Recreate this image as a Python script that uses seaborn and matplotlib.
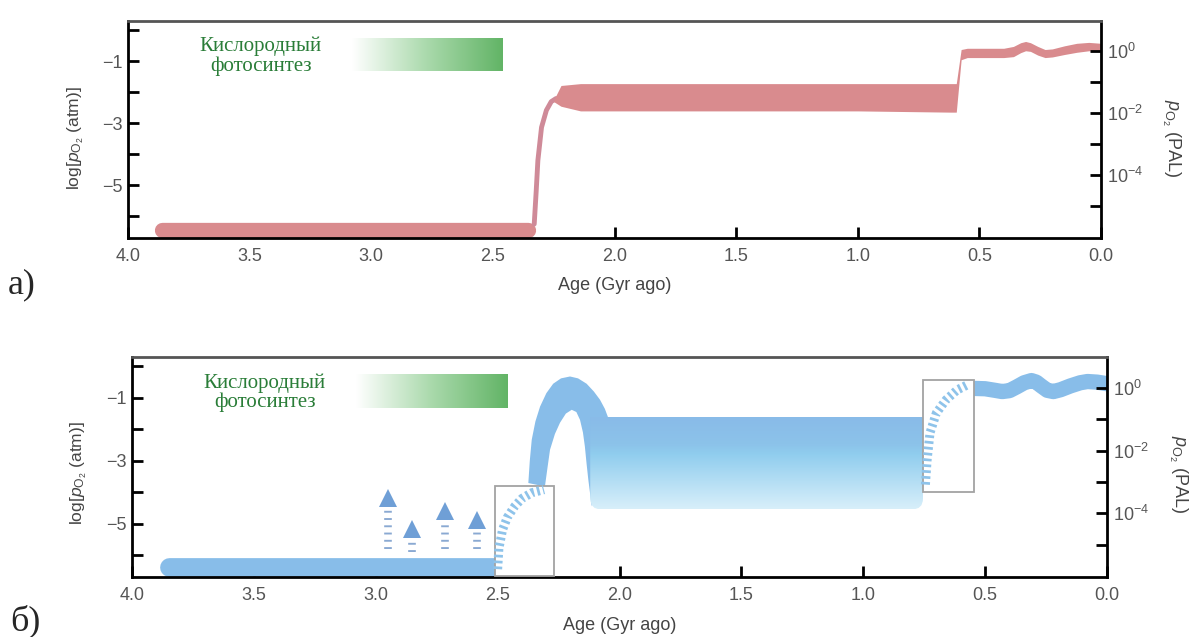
import numpy as np
import matplotlib
matplotlib.use("Agg")
import matplotlib.pyplot as plt
import seaborn as sns
from matplotlib.colors import LinearSegmentedColormap
from matplotlib.patches import Rectangle, FancyBboxPatch

sns.set_theme(style="ticks")
plt.rcParams["font.family"] = ["Liberation Sans", "DejaVu Sans"]
plt.rcParams["mathtext.fontset"] = "custom"
plt.rcParams["mathtext.rm"] = "Liberation Sans"
plt.rcParams["mathtext.it"] = "Liberation Sans:italic"
plt.rcParams["mathtext.bf"] = "Liberation Sans:bold"

# ---- axes values ----
age_ticks = [4.0, 3.5, 3.0, 2.5, 2.0, 1.5, 1.0, 0.5, 0.0]
atm_major = [-1, -3, -5]
atm_minor = [0, -2, -4, -6]
pal_major = [0, -2, -4]
pal_labels = [r"$10^{0}$", r"$10^{-2}$", r"$10^{-4}$"]
pal_minor = [-1, -3, -5]
atm_range = [-6.7, 0.3]
pal_atm = 0.21  # 1 PAL = 0.21 atm

# oxygenic photosynthesis marker (same in both panels)
photo_age = [3.08, 2.46]
photo_log = [-1.32, -0.26]
photo_text = "Кислородный\nфотосинтез"

# ---- panel a (red) ----
a_low_age = [3.86, 2.355]
a_low_log = [-6.45, -6.45]
a_rise_age = [2.33, 2.322, 2.315, 2.30, 2.28, 2.26, 2.24]
a_rise_log = [-6.25, -5.2, -4.2, -3.13, -2.58, -2.3, -2.2]
a_band_age = [2.25, 2.22, 2.14, 1.00, 0.62, 0.595, 0.575, 0.55, 0.40, 0.36, 0.33,
              0.31, 0.29, 0.26, 0.23, 0.20, 0.15, 0.10, 0.05, 0.0]
a_band_hi = [-2.25, -1.78, -1.72, -1.72, -1.72, -1.72, -0.62, -0.58, -0.58, -0.52,
             -0.40, -0.36, -0.40, -0.52, -0.62, -0.60, -0.50, -0.42, -0.39, -0.42]
a_band_lo = [-2.30, -2.45, -2.60, -2.60, -2.64, -2.64, -0.95, -0.88, -0.88, -0.85,
             -0.72, -0.66, -0.68, -0.80, -0.88, -0.86, -0.78, -0.71, -0.66, -0.68]

# ---- panel b (blue) ----
b_low_age = [3.85, 2.51]
b_low_log = [-6.38, -6.38]
b_box1_age = [2.51, 2.27]
b_box1_log = [-6.68, -3.79]
b_arc1_age = [2.50, 2.495, 2.48, 2.46, 2.43, 2.40, 2.36, 2.31]
b_arc1_log = [-6.45, -5.8, -5.2, -4.8, -4.45, -4.2, -4.02, -3.92]
b_arch_outer_age = [2.374, 2.368, 2.360, 2.345, 2.326, 2.300, 2.272, 2.240, 2.203,
                    2.170, 2.135, 2.105, 2.080, 2.060, 2.046]
b_arch_outer_log = [-3.71, -3.00, -2.33, -1.75, -1.28, -0.85, -0.55, -0.38, -0.32,
                    -0.38, -0.55, -0.80, -1.06, -1.35, -1.64]
b_arch_inner_age = [2.306, 2.295, 2.285, 2.265, 2.244, 2.220, 2.196, 2.177, 2.162,
                    2.150, 2.142, 2.135, 2.128, 2.114]
b_arch_inner_log = [-3.82, -3.20, -2.65, -2.15, -1.79, -1.50, -1.38, -1.45, -1.70,
                    -2.10, -2.55, -3.10, -3.60, -4.45]
b_plateau_age = [2.12, 0.755]
b_plateau_log = [-4.55, -1.64]
b_box2_age = [0.755, 0.545]
b_box2_log = [-4.0, -0.43]
b_arc2_age = [0.745, 0.738, 0.726, 0.70, 0.66, 0.615, 0.574]
b_arc2_log = [-3.76, -2.97, -2.11, -1.48, -1.06, -0.75, -0.59]
b_wave_age = [0.545, 0.50, 0.46, 0.43, 0.40, 0.37, 0.34, 0.31, 0.29, 0.27, 0.245,
              0.22, 0.19, 0.15, 0.11, 0.08, 0.04, 0.0]
b_wave_log = [-0.70, -0.71, -0.76, -0.80, -0.77, -0.65, -0.52, -0.45, -0.50, -0.62,
              -0.76, -0.80, -0.74, -0.62, -0.52, -0.48, -0.50, -0.55]
arrow_age = [2.95, 2.85, 2.715, 2.585]
arrow_tip = [-3.98, -4.97, -4.40, -4.70]
arrow_base = [-5.8, -5.9, -5.8, -5.8]

red = "#d98b8e"
blue = "#88bde9"
green_text = "#2a7d38"
tick_grey = "#555555"

green_cmap = LinearSegmentedColormap.from_list("photo", ["#ffffff", "#a9d9ab", "#62b466"])
plateau_cmap = LinearSegmentedColormap.from_list(
    "plateau", [(0.0, "#89bbe8"), (0.3, "#8cc3ea"), (0.4, "#90cdee"), (1.0, "#d8effa")])


def style_axes(ax):
    ax.set_xlim(4.0, 0.0)
    ax.set_ylim(*atm_range)
    ax.set_xticks(age_ticks)
    ax.set_xticklabels([f"{t:.1f}" for t in age_ticks])
    ax.set_yticks(atm_major)
    ax.set_yticklabels([f"\u2212{abs(t)}" for t in atm_major])
    ax.set_yticks(atm_minor, minor=True)
    ax.tick_params(which="both", direction="in", length=8, width=2, color="black",
                   labelsize=13, labelcolor=tick_grey)
    ax.tick_params(axis="x", pad=7)
    ax.tick_params(axis="y", pad=4)
    for side in ["left", "bottom", "right"]:
        ax.spines[side].set_linewidth(2)
        ax.spines[side].set_color("black")
    ax.spines["top"].set_linewidth(2)
    ax.spines["top"].set_color("#555555")
    ax.set_xlabel("Age (Gyr ago)", fontsize=13, color="#444444")
    ax.set_ylabel(r"log[$p_{\mathrm{O}_2}$ (atm)]", fontsize=12.5, color="#444444")

    twin = ax.twinx()
    off = np.log10(pal_atm)
    twin.set_ylim(atm_range[0] - off, atm_range[1] - off)
    twin.set_yticks(pal_major)
    twin.set_yticklabels(pal_labels)
    twin.set_yticks(pal_minor, minor=True)
    twin.tick_params(which="both", direction="in", length=8, width=2, color="black",
                     labelsize=13, labelcolor=tick_grey, pad=4)
    twin.set_ylabel(r"$p_{\mathrm{O}_2}$ (PAL)", fontsize=13, color="#444444",
                    rotation=270, va="bottom", rotation_mode="anchor")
    for s in twin.spines.values():
        s.set_visible(False)

    # photosynthesis label and gradient bar
    ax.imshow(np.linspace(0, 1, 256).reshape(1, -1), cmap=green_cmap, aspect="auto",
              extent=[photo_age[0], photo_age[1], photo_log[0], photo_log[1]], zorder=1)
    ax.text(3.455, -0.84, photo_text, ha="center", va="center", color=green_text,
            family=["Liberation Serif", "DejaVu Serif"], fontsize=15, linespacing=1.0)
    ax.set_xlim(4.0, 0.0)
    ax.set_ylim(*atm_range)
    return twin


fig = plt.figure(figsize=(11.9, 6.37), dpi=100)
ax_a = fig.add_axes([128 / 1190, 1 - 238 / 637, 973 / 1190, 217 / 637])
ax_b = fig.add_axes([132 / 1190, 1 - 577 / 637, 975 / 1190, 220 / 637])

# ---------------- panel a ----------------
tw_a = style_axes(ax_a)
sns.lineplot(x=a_low_age, y=a_low_log, ax=ax_a, color=red, linewidth=11,
             solid_capstyle="round", sort=False, estimator=None, legend=False)
sns.lineplot(x=a_rise_age, y=a_rise_log, ax=ax_a, color="#cf8a98", linewidth=3.5,
             solid_capstyle="round", sort=False, estimator=None, legend=False)
ax_a.fill_between(a_band_age, a_band_lo, a_band_hi, color=red, linewidth=0, zorder=2)

# ---------------- panel b ----------------
tw_b = style_axes(ax_b)
sns.lineplot(x=b_low_age, y=b_low_log, ax=ax_b, color=blue, linewidth=13.5,
             solid_capstyle="round", sort=False, estimator=None, legend=False)

# arch after the first rise
ax_b.fill(b_arch_outer_age + b_arch_inner_age[::-1],
          b_arch_outer_log + b_arch_inner_log[::-1], color=blue, linewidth=0, zorder=2)

# plateau with vertical gradient, rounded lower corners
clip = FancyBboxPatch((b_plateau_age[1], b_plateau_log[0]),
                      b_plateau_age[0] - b_plateau_age[1], 3.5,
                      boxstyle="round,pad=0,rounding_size=0.045", mutation_aspect=7.7,
                      facecolor="none", edgecolor="none", transform=ax_b.transData)
ax_b.add_patch(clip)
im = ax_b.imshow(np.linspace(0, 1, 256).reshape(-1, 1), cmap=plateau_cmap, aspect="auto",
                 extent=[b_plateau_age[0], b_plateau_age[1], b_plateau_log[0], b_plateau_log[1]],
                 zorder=2.2)
im.set_clip_path(clip)

# boxes around uncertain transitions
for bx, by in [(b_box1_age, b_box1_log), (b_box2_age, b_box2_log)]:
    ax_b.add_patch(Rectangle((min(bx), by[0]), abs(bx[0] - bx[1]), by[1] - by[0],
                             facecolor="white", edgecolor="#a3a3a3", linewidth=1.3, zorder=3))

for ax_x, ax_y in [(b_arc1_age, b_arc1_log), (b_arc2_age, b_arc2_log)]:
    sns.lineplot(x=ax_x, y=ax_y, ax=ax_b, color="#8ec3ea", linewidth=6.5,
                 linestyle=(0, (0.3, 0.35)), dash_capstyle="butt",
                 sort=False, estimator=None, legend=False, zorder=4)

sns.lineplot(x=b_wave_age, y=b_wave_log, ax=ax_b, color=blue, linewidth=11,
             solid_capstyle="round", solid_joinstyle="round", sort=False,
             estimator=None, legend=False, zorder=2)

# dashed upward arrows
for x0, y_tip, y_base in zip(arrow_age, arrow_tip, arrow_base):
    ax_b.plot([x0, x0], [y_base, y_tip - 0.3], color="#8aa9d2", linewidth=5.5,
              linestyle=(0, (0.25, 0.7)), dash_capstyle="butt", zorder=3)
    ax_b.plot([x0], [y_tip - 0.2], marker="^", markersize=13, color="#6f9fd6",
              markeredgewidth=0, zorder=3)

ax_b.set_xlim(4.0, 0.0)
ax_b.set_ylim(*atm_range)

for ax in [ax_a, ax_b]:
    ax.xaxis.set_label_coords(0.5, -0.18)
ax_a.yaxis.set_label_coords(-0.043, 0.46)
ax_b.yaxis.set_label_coords(-0.044, 0.47)
tw_a.yaxis.set_label_coords(1.061, 0.46)
tw_b.yaxis.set_label_coords(1.062, 0.47)

fig.text(8 / 1190, 1 - 293 / 637, "а)", family=["Liberation Serif", "DejaVu Serif"],
         fontsize=26, va="baseline")
fig.text(10 / 1190, 1 - 630 / 637, "б)", family=["Liberation Serif", "DejaVu Serif"],
         fontsize=26, va="baseline")

fig.savefig("out.png", dpi=100)
